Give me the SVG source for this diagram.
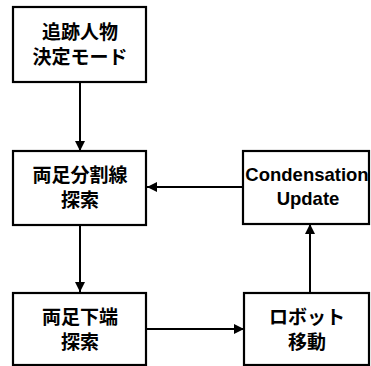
<svg xmlns="http://www.w3.org/2000/svg" width="371" height="366" viewBox="0 0 371 366">
<defs>
<marker id="ah" markerWidth="10" markerHeight="10" refX="10" refY="5" orient="auto" markerUnits="userSpaceOnUse">
<path d="M0,0 L10,5 L0,10 Z" fill="#000"/>
</marker>
<style>
.box{fill:#fff;stroke:#000;stroke-width:2.2}
.jp{font-family:"Noto Sans CJK JP","Liberation Sans",sans-serif;font-weight:bold;font-size:19px;text-anchor:middle;fill:#000}
.en{font-family:"Liberation Sans","Noto Sans CJK JP",sans-serif;font-weight:bold;font-size:18.5px;text-anchor:middle;fill:#000}
.ln{stroke:#000;stroke-width:2;fill:none}
</style>
</defs>
<rect width="371" height="366" fill="#fff"/>
<g id="connectors">
<line class="ln" x1="80" y1="82" x2="80" y2="151" marker-end="url(#ah)"/>
<line class="ln" x1="243" y1="187" x2="147" y2="187" marker-end="url(#ah)"/>
<line class="ln" x1="80" y1="225" x2="80" y2="292" marker-end="url(#ah)"/>
<line class="ln" x1="146" y1="329" x2="244" y2="329" marker-end="url(#ah)"/>
<line class="ln" x1="310" y1="292" x2="310" y2="224" marker-end="url(#ah)"/>
</g>
<g id="node-tracking">
<rect class="box" x="13" y="7" width="133" height="75"/>
<text class="jp" x="80" y="39"><tspan x="80">追跡人物</tspan><tspan x="80" dy="25">決定モード</tspan></text>
</g>
<g id="node-split">
<rect class="box" x="13" y="151" width="133" height="74"/>
<text class="jp" x="80" y="182"><tspan x="80">両足分割線</tspan><tspan x="80" dy="25">探索</tspan></text>
</g>
<g id="node-condensation">
<rect class="box" x="243" y="151" width="126" height="73"/>
<text class="en" x="307" y="181"><tspan x="307">Condensation</tspan><tspan x="308" dy="24">Update</tspan></text>
</g>
<g id="node-bottom">
<rect class="box" x="13" y="293" width="133" height="72"/>
<text class="jp" x="80" y="324"><tspan x="80">両足下端</tspan><tspan x="80" dy="25">探索</tspan></text>
</g>
<g id="node-robot">
<rect class="box" x="244" y="293" width="125" height="72"/>
<text class="jp" x="307" y="324"><tspan x="307">ロボット</tspan><tspan x="307" dy="25">移動</tspan></text>
</g>
</svg>
